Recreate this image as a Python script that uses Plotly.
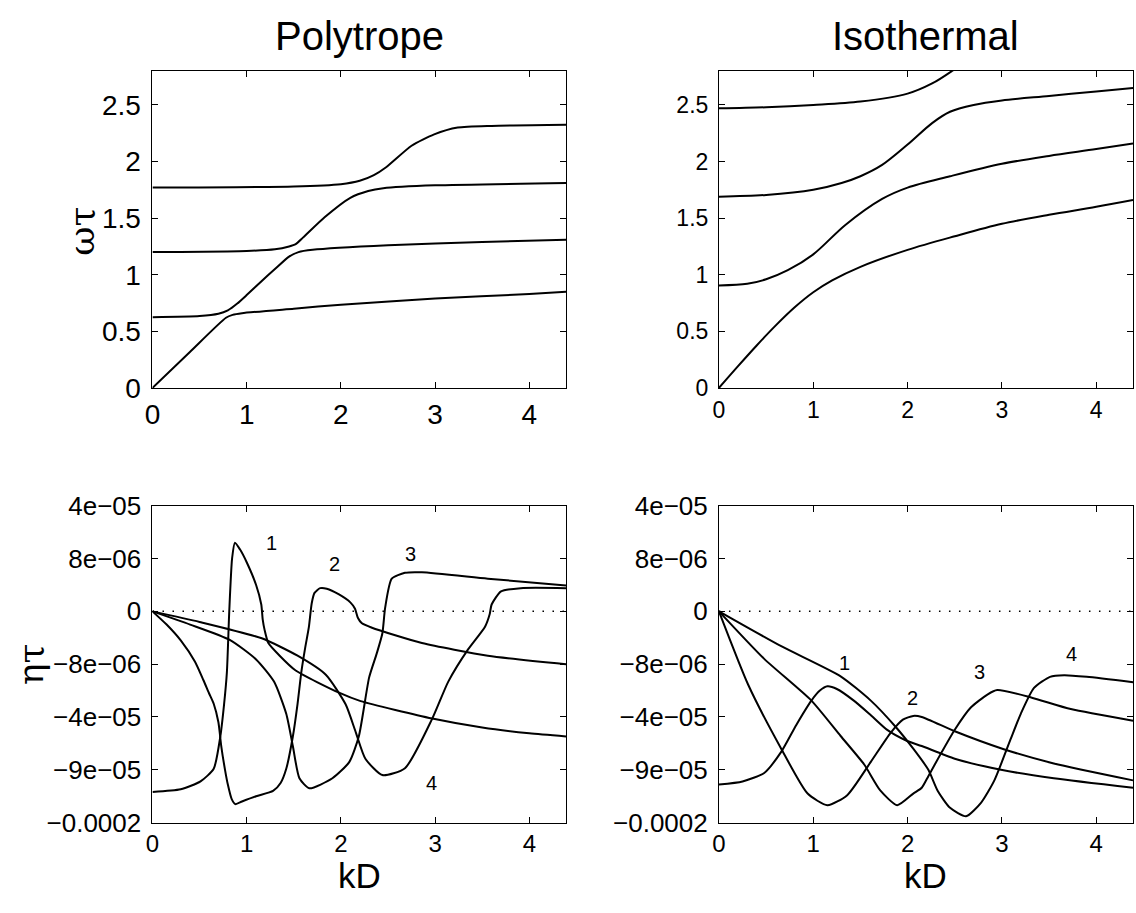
import plotly.graph_objects as go

# ---------------- data ----------------
# Top-left: Polytrope, omega*tau vs kD
poly_w_k1 = [0, 0.4, 0.78, 0.85, 0.95, 1.5, 2.0, 3.0, 4.0, 4.39]
poly_w_v1 = [0, 0.32, 0.62, 0.645, 0.66, 0.70, 0.735, 0.79, 0.83, 0.85]
poly_w_k2 = [0, 0.5, 0.7, 0.8, 0.9, 1.0, 1.14, 1.3, 1.45, 1.55, 1.7, 2.5, 3.5, 4.39]
poly_w_v2 = [0.625, 0.635, 0.655, 0.685, 0.745, 0.82, 0.93, 1.05, 1.16, 1.2, 1.22, 1.26, 1.29, 1.31]
poly_w_k3 = [0, 1.0, 1.3, 1.45, 1.52, 1.6, 1.83, 2.1, 2.29, 2.45, 3.0, 4.39]
poly_w_v3 = [1.2, 1.21, 1.225, 1.25, 1.27, 1.33, 1.51, 1.68, 1.74, 1.765, 1.79, 1.81]
poly_w_k4 = [0, 1.5, 2.0, 2.2, 2.35, 2.48, 2.75, 2.99, 3.24, 3.6, 4.39]
poly_w_v4 = [1.77, 1.78, 1.80, 1.83, 1.88, 1.95, 2.14, 2.24, 2.30, 2.315, 2.325]

# Top-right: Isothermal, omega*tau vs kD
iso_w_k1 = [0, 0.2, 0.4, 0.6, 0.8, 1.0, 1.2, 1.5, 2.0, 2.5, 3.0, 3.5, 4.0, 4.39]
iso_w_v1 = [0, 0.19, 0.375, 0.55, 0.71, 0.845, 0.95, 1.07, 1.22, 1.34, 1.45, 1.53, 1.60, 1.66]
iso_w_k2 = [0, 0.3, 0.5, 0.73, 1.0, 1.34, 1.73, 2.0, 2.45, 3.0, 3.5, 4.0, 4.39]
iso_w_v2 = [0.905, 0.92, 0.96, 1.04, 1.18, 1.44, 1.67, 1.77, 1.87, 1.98, 2.05, 2.11, 2.16]
iso_w_k3 = [0, 0.5, 1.0, 1.3, 1.5, 1.73, 2.0, 2.26, 2.45, 2.7, 3.0, 3.5, 4.0, 4.39]
iso_w_v3 = [1.69, 1.705, 1.75, 1.81, 1.87, 1.97, 2.15, 2.34, 2.44, 2.5, 2.54, 2.58, 2.62, 2.65]
iso_w_k4 = [0, 0.5, 1.0, 1.5, 2.0, 2.26, 2.47, 2.6, 2.75]
iso_w_v4 = [2.47, 2.48, 2.5, 2.53, 2.6, 2.69, 2.8, 2.88, 2.98]

# Bottom panels: eta*tau, given in positions of the (non-linear) tick scale
eta_tickvals = [2, 1, 0, -1, -2, -3, -4]
eta_ticktext = ["4e\u221205", "8e\u221206", "0", "\u22128e\u221206", "\u22124e\u221205", "\u22129e\u221205", "\u22120.0002"]

poly_e_k1 = [0, 0.3, 0.51, 0.65, 0.72, 0.76, 0.79, 0.815, 0.845, 0.875, 0.93, 1.0, 1.1, 1.155, 1.17, 1.19, 1.23, 1.35, 1.52, 1.98, 2.21, 2.97, 3.5, 4.0, 4.39]
poly_e_v1 = [-3.42, -3.37, -3.22, -2.98, -2.37, -1.76, -1.15, 0.0, 1.0, 1.30, 1.17, 0.93, 0.5, 0.13, -0.15, -0.35, -0.6, -0.84, -1.12, -1.54, -1.70, -2.03, -2.2, -2.31, -2.37]
poly_e_k2 = [0, 0.15, 0.3, 0.45, 0.54, 0.6, 0.65, 0.7, 0.73, 0.77, 0.8, 0.84, 0.88, 0.95, 1.1, 1.28, 1.36, 1.42, 1.49, 1.54, 1.58, 1.62, 1.66, 1.69, 1.72, 1.78, 1.85, 1.98, 2.1, 2.15, 2.18, 2.22, 2.33, 2.86, 3.56, 4.39]
poly_e_v2 = [0, -0.25, -0.55, -0.95, -1.3, -1.55, -1.75, -2.1, -2.55, -3.0, -3.28, -3.55, -3.65, -3.6, -3.5, -3.40, -3.25, -2.98, -2.37, -1.75, -1.15, -0.7, -0.3, 0.15, 0.35, 0.44, 0.43, 0.32, 0.17, 0.05, -0.12, -0.22, -0.31, -0.6, -0.84, -1.0]
poly_e_k3 = [0, 0.4, 0.82, 1.1, 1.29, 1.42, 1.49, 1.56, 1.665, 1.91, 2.09, 2.19, 2.3, 2.38, 2.44, 2.47, 2.54, 2.68, 2.86, 3.56, 4.39]
poly_e_v3 = [0, -0.25, -0.54, -0.91, -1.33, -1.94, -2.55, -3.16, -3.35, -3.16, -2.85, -2.37, -1.25, -0.8, -0.42, 0.07, 0.62, 0.73, 0.74, 0.62, 0.49]
poly_e_k4 = [0, 0.5, 1.16, 1.54, 1.84, 2.05, 2.16, 2.26, 2.44, 2.68, 2.97, 3.14, 3.35, 3.53, 3.58, 3.6, 3.70, 3.91, 4.39]
poly_e_v4 = [0, -0.2, -0.51, -0.84, -1.2, -1.76, -2.3, -2.79, -3.10, -2.97, -2.03, -1.33, -0.72, -0.29, -0.05, 0.13, 0.38, 0.44, 0.44]

iso_e_k1 = [0, 0.25, 0.48, 0.66, 0.82, 0.98, 1.07, 1.15, 1.25, 1.43, 1.6, 1.78, 1.99, 2.15, 2.5, 2.99, 3.55, 4.39]
iso_e_v1 = [-3.28, -3.22, -3.06, -2.66, -2.15, -1.69, -1.5, -1.42, -1.47, -1.69, -1.95, -2.24, -2.45, -2.55, -2.79, -3.0, -3.16, -3.34]
iso_e_k2 = [0, 0.31, 0.66, 0.94, 1.15, 1.36, 1.61, 1.82, 1.95, 2.06, 2.15, 2.5, 3.02, 3.55, 4.39]
iso_e_v2 = [0, -1.39, -2.6, -3.45, -3.67, -3.48, -2.85, -2.3, -2.05, -1.98, -2.0, -2.27, -2.61, -2.88, -3.2]
iso_e_k3 = [0, 0.48, 0.98, 1.29, 1.54, 1.71, 1.89, 2.06, 2.15, 2.22, 2.36, 2.5, 2.67, 2.85, 2.95, 3.31, 3.73, 4.39]
iso_e_v3 = [0, -0.9, -1.69, -2.36, -2.9, -3.39, -3.67, -3.45, -3.34, -3.12, -2.67, -2.24, -1.82, -1.57, -1.49, -1.63, -1.85, -2.07]
iso_e_k4 = [0, 0.66, 1.29, 1.61, 1.87, 2.06, 2.22, 2.32, 2.45, 2.62, 2.78, 2.92, 3.09, 3.2, 3.34, 3.51, 3.66, 3.9, 4.39]
iso_e_v4 = [0, -0.66, -1.23, -1.69, -2.18, -2.6, -3.0, -3.4, -3.72, -3.88, -3.62, -3.2, -2.43, -1.94, -1.45, -1.24, -1.21, -1.24, -1.34]

# mode number labels (kD, eta position)
poly_lab_k = [1.26, 1.93, 2.74, 2.96]
poly_lab_v = [1.29, 0.9, 1.08, -3.25]
iso_lab_k = [1.33, 2.05, 2.76, 3.74]
iso_lab_v = [-0.97, -1.64, -1.15, -0.81]
lab_text = ["1", "2", "3", "4"]

xticks = [0, 1, 2, 3, 4]
x_range = [0, 4.39]
w_range = [0, 2.8]
w_ticks = [0, 0.5, 1, 1.5, 2, 2.5]
w_ticktext = ["0", "0.5", "1", "1.5", "2", "2.5"]
e_range = [-4, 2]

# ---------------- figure ----------------
W, H = 1136, 913
fig = go.Figure()
TOPLINE = dict(color="black", width=2, shape="spline", smoothing=0.9)
BOTLINE = dict(color="black", width=2, shape="spline", smoothing=0.6)

def add(k, v, xa, ya, line):
    fig.add_trace(go.Scatter(x=k, y=v, mode="lines", line=line, xaxis=xa, yaxis=ya,
                             showlegend=False, hoverinfo="skip"))

for k, v in [(poly_w_k1, poly_w_v1), (poly_w_k2, poly_w_v2), (poly_w_k3, poly_w_v3), (poly_w_k4, poly_w_v4)]:
    add(k, v, "x", "y", BOTLINE)
for k, v in [(iso_w_k1, iso_w_v1), (iso_w_k2, iso_w_v2), (iso_w_k3, iso_w_v3), (iso_w_k4, iso_w_v4)]:
    add(k, v, "x2", "y2", TOPLINE)
for xa, ya in [("x3", "y3"), ("x4", "y4")]:
    fig.add_trace(go.Scatter(x=x_range, y=[0, 0], mode="lines",
                             line=dict(color="black", width=1.5, dash="1.5px,8.5px"),
                             xaxis=xa, yaxis=ya, showlegend=False, hoverinfo="skip"))
for k, v in [(poly_e_k1, poly_e_v1), (poly_e_k2, poly_e_v2), (poly_e_k3, poly_e_v3), (poly_e_k4, poly_e_v4)]:
    add(k, v, "x3", "y3", BOTLINE)
for k, v in [(iso_e_k1, iso_e_v1), (iso_e_k2, iso_e_v2), (iso_e_k3, iso_e_v3), (iso_e_k4, iso_e_v4)]:
    add(k, v, "x4", "y4", BOTLINE)

FONT = "Liberation Sans, Arial, Helvetica, sans-serif"

def px_x(a, b):
    return [a / W, b / W]

def px_y(top, bottom):
    return [1 - bottom / H, 1 - top / H]

def axis(domain, rng, anchor, size, standoff, **kw):
    d = dict(domain=domain, range=rng, anchor=anchor, showline=True, linecolor="black",
             linewidth=1, mirror="ticks", ticks="inside", ticklen=6, tickcolor="black",
             tickwidth=1, showgrid=False, zeroline=False, ticklabelstandoff=standoff,
             tickfont=dict(family=FONT, size=size, color="black"))
    d.update(kw)
    return d

LX = px_x(145.5, 562)
RX = px_x(716, 1133)
TY = px_y(58, 386)
BY = px_y(508, 836)

fig.update_layout(
    width=W, height=H, margin=dict(l=0, r=0, t=0, b=0),
    paper_bgcolor="white", plot_bgcolor="white",
    xaxis=axis(LX, x_range, "y", 28, 2, tickvals=xticks),
    yaxis=axis(TY, w_range, "x", 28, 5, tickvals=w_ticks, ticktext=w_ticktext),
    xaxis2=axis(RX, x_range, "y2", 23, 2, tickvals=xticks),
    yaxis2=axis(TY, w_range, "x2", 23, 5, tickvals=w_ticks, ticktext=w_ticktext),
    xaxis3=axis(LX, x_range, "y3", 24, 0, tickvals=xticks),
    yaxis3=axis(BY, e_range, "x3", 26, 5, tickvals=eta_tickvals, ticktext=eta_ticktext),
    xaxis4=axis(RX, x_range, "y4", 24, 0, tickvals=xticks),
    yaxis4=axis(BY, e_range, "x4", 26, 5, tickvals=eta_tickvals, ticktext=eta_ticktext),
)

ann = []
for t, cx in [("Polytrope", (LX[0] + LX[1]) / 2), ("Isothermal", (RX[0] + RX[1]) / 2)]:
    ann.append(dict(text=t, x=cx, y=1 - 22 / H, xref="paper", yref="paper", showarrow=False,
                    xanchor="center", yanchor="middle", font=dict(family=FONT, size=40, color="black")))
for cx in [(LX[0] + LX[1]) / 2, (RX[0] + RX[1]) / 2]:
    ann.append(dict(text="kD", x=cx, y=0, xref="paper", yref="paper", showarrow=False,
                    xanchor="center", yanchor="bottom", font=dict(family=FONT, size=35, color="black")))
ann.append(dict(text="\u03c9\u03c4", x=74 / W, y=1 - 224 / H, xref="paper", yref="paper", showarrow=False,
                textangle=-90, xanchor="center", yanchor="middle",
                font=dict(family="DejaVu Serif, serif", size=36, color="black")))
ann.append(dict(text="\u03b7\u03c4", x=22 / W, y=1 - 672 / H, xref="paper", yref="paper", showarrow=False,
                textangle=-90, xanchor="center", yanchor="middle",
                font=dict(family="DejaVu Serif, serif", size=36, color="black")))
for ks, vs, xa, ya in [(poly_lab_k, poly_lab_v, "x3", "y3"), (iso_lab_k, iso_lab_v, "x4", "y4")]:
    for k, v, t in zip(ks, vs, lab_text):
        ann.append(dict(text=t, x=k, y=v, xref=xa, yref=ya, showarrow=False,
                        xanchor="center", yanchor="middle", font=dict(family=FONT, size=20, color="black")))
fig.update_layout(annotations=ann)

fig.write_html("out.html")
